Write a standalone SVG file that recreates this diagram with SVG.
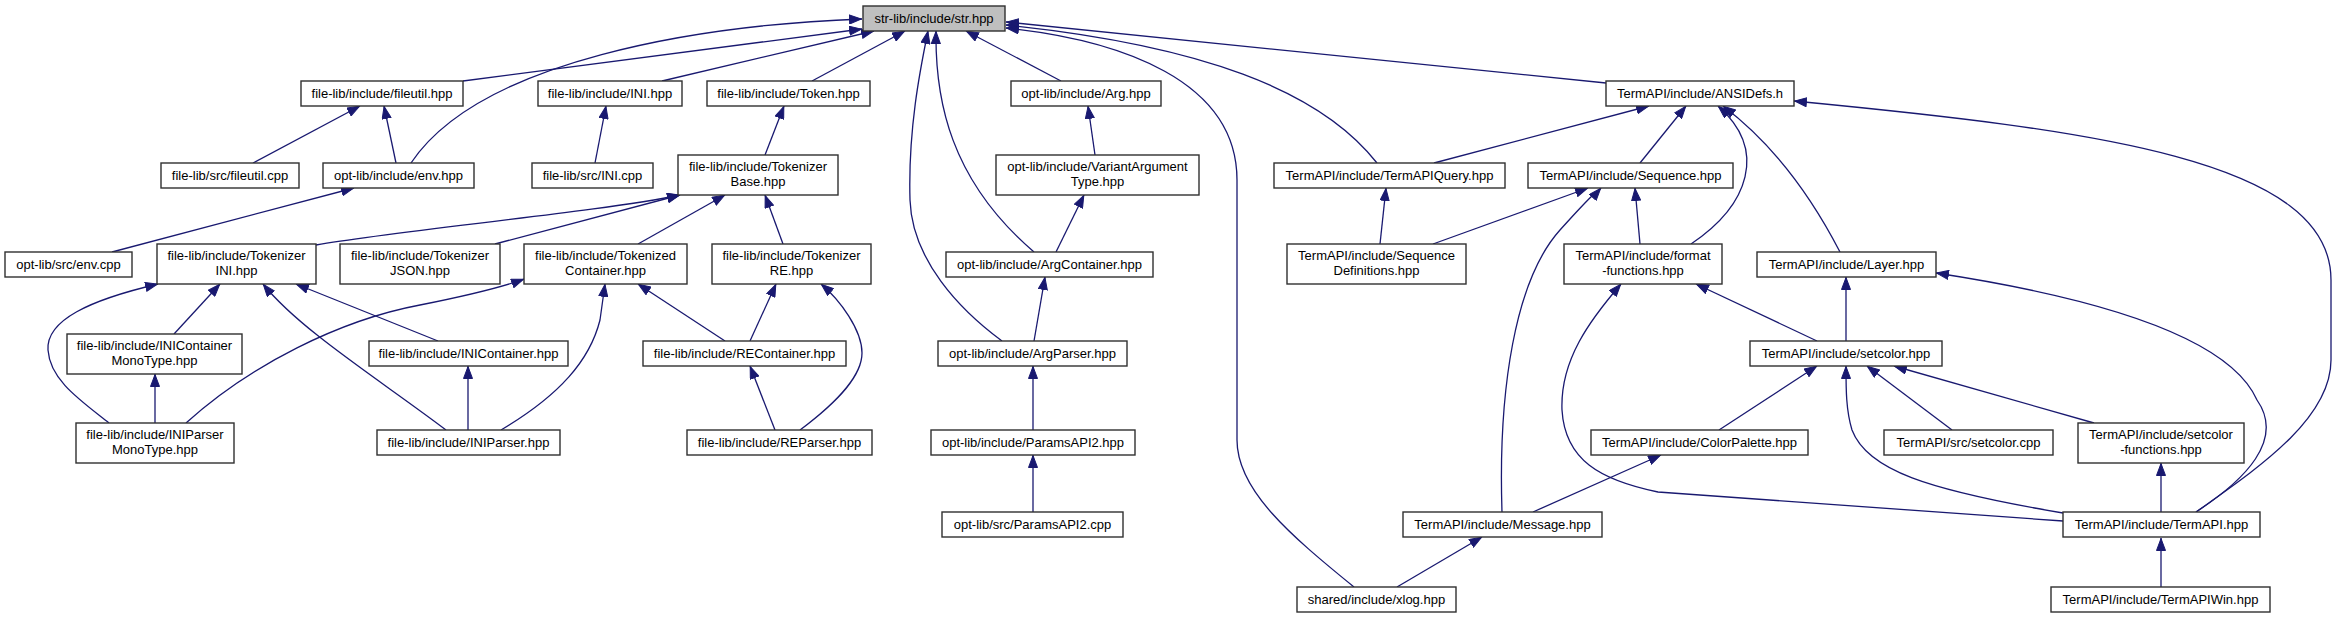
<svg xmlns="http://www.w3.org/2000/svg" width="2339" height="619" viewBox="0 0 2339 619">
<style>
.n rect{fill:#ffffff;stroke:#303030;stroke-width:1.4}
.n.g rect{fill:#bfbfbf}
.n text{font-family:"Liberation Sans",Arial,sans-serif;font-size:13px;fill:#000;text-anchor:middle}
#edges path{fill:none;stroke:#191970;stroke-width:1.3;marker-end:url(#ah)}
</style>
<defs>
<marker id="ah" markerUnits="userSpaceOnUse" viewBox="0 0 13 10" refX="13" refY="5" markerWidth="13" markerHeight="10" orient="auto"><path d="M0.5,0.5 L12.5,5 L0.5,9.5 z" fill="#191970" stroke="#191970" stroke-width="1"/></marker>
</defs>
<rect x="0" y="0" width="2339" height="619" fill="#ffffff"/>
<g id="edges">
<path d="M463,81 L862,29"/>
<path d="M411,163 C480,60 700,25 862,19"/>
<path d="M662,81 L874,31"/>
<path d="M812,81 L905,31"/>
<path d="M1034,252 C950,180 935,100 936,31"/>
<path d="M1002,341 C960,310 912,260 910,200 C908,130 920,70 928,31"/>
<path d="M1061,81 L966,31"/>
<path d="M1354,587 C1290,535 1237,490 1237,440 L1237,180 C1237,80 1120,40 1006,28"/>
<path d="M1377,163 C1320,90 1200,45 1006,25"/>
<path d="M1606,83 L1006,22"/>
<path d="M1434,163 L1649,106"/>
<path d="M1640,163 L1686,106"/>
<path d="M1691,244 C1749,205 1768,150 1718,106"/>
<path d="M1840,252 C1808,190 1768,140 1723,106"/>
<path d="M2196,512 C2255,470 2331,420 2331,360 L2331,280 C2331,160 2095,130 1794,101"/>
<path d="M1433,244 L1588,188"/>
<path d="M1502,512 C1498,390 1515,280 1560,230 S1594,196 1601,188"/>
<path d="M1640,244 L1635,188"/>
<path d="M1380,244 L1386,188"/>
<path d="M1846,341 L1846,277"/>
<path d="M2196,512 C2245,480 2285,440 2257,400 C2235,350 2145,305 1936,273"/>
<path d="M1817,341 L1696,284"/>
<path d="M2063,521 L1658,492 C1600,480 1565,460 1562,410 C1560,360 1590,320 1621,284"/>
<path d="M1719,430 L1817,366"/>
<path d="M2063,513 C1927,490 1867,470 1852,430 C1846,410 1846,390 1846,366"/>
<path d="M1952,430 L1867,366"/>
<path d="M2094,423 L1894,366"/>
<path d="M2161,512 L2161,463"/>
<path d="M2161,587 L2161,538"/>
<path d="M1533,512 L1661,455"/>
<path d="M1397,587 L1482,537"/>
<path d="M253,163 L360,106"/>
<path d="M396,163 L384,106"/>
<path d="M112,252 L354,188"/>
<path d="M595,163 L606,106"/>
<path d="M765,155 L784,106"/>
<path d="M316,245 C400,230 600,212 680,195"/>
<path d="M495,244 L680,195"/>
<path d="M638,244 L725,195"/>
<path d="M783,244 L765,195"/>
<path d="M174,334 L220,284"/>
<path d="M109,423 C80,400 50,380 48,350 C46,320 90,300 158,284"/>
<path d="M446,430 C380,380 300,330 263,284"/>
<path d="M438,341 L296,284"/>
<path d="M186,423 C250,365 340,320 420,305 C460,297 500,288 524,279"/>
<path d="M501,430 C560,395 590,360 600,320 L605,284"/>
<path d="M725,341 L638,284"/>
<path d="M750,341 L776,284"/>
<path d="M800,430 C840,400 862,375 862,353 C862,330 840,300 821,284"/>
<path d="M468,430 L468,366"/>
<path d="M155,423 L155,374"/>
<path d="M775,430 L750,366"/>
<path d="M1095,155 L1088,106"/>
<path d="M1056,252 L1084,195"/>
<path d="M1034,341 L1045,277"/>
<path d="M1033,430 L1033,366"/>
<path d="M1033,512 L1033,455"/>
</g>
<g id="n_str" class="n g"><rect x="863" y="6" width="142" height="25"/><text x="934" y="23">str-lib/include/str.hpp</text></g>
<g id="n_fileutil_hpp" class="n"><rect x="301" y="81" width="162" height="25"/><text x="382" y="98">file-lib/include/fileutil.hpp</text></g>
<g id="n_ini_hpp" class="n"><rect x="538" y="81" width="144" height="25"/><text x="610" y="98">file-lib/include/INI.hpp</text></g>
<g id="n_token" class="n"><rect x="707" y="81" width="163" height="25"/><text x="788.5" y="98">file-lib/include/Token.hpp</text></g>
<g id="n_arg" class="n"><rect x="1011" y="81" width="150" height="25"/><text x="1086" y="98">opt-lib/include/Arg.hpp</text></g>
<g id="n_ansidefs" class="n"><rect x="1606" y="81" width="188" height="25"/><text x="1700" y="98">TermAPI/include/ANSIDefs.h</text></g>
<g id="n_fileutil_cpp" class="n"><rect x="161" y="163" width="138" height="25"/><text x="230" y="180">file-lib/src/fileutil.cpp</text></g>
<g id="n_env_hpp" class="n"><rect x="323" y="163" width="151" height="25"/><text x="398.5" y="180">opt-lib/include/env.hpp</text></g>
<g id="n_ini_cpp" class="n"><rect x="532" y="163" width="121" height="25"/><text x="592.5" y="180">file-lib/src/INI.cpp</text></g>
<g id="n_tokbase" class="n"><rect x="678" y="155" width="160" height="40"/><text x="758" y="171">file-lib/include/Tokenizer</text><text x="758" y="186">Base.hpp</text></g>
<g id="n_variant" class="n"><rect x="996" y="155" width="203" height="40"/><text x="1097.5" y="171">opt-lib/include/VariantArgument</text><text x="1097.5" y="186">Type.hpp</text></g>
<g id="n_termapiquery" class="n"><rect x="1274" y="163" width="231" height="25"/><text x="1389.5" y="180">TermAPI/include/TermAPIQuery.hpp</text></g>
<g id="n_sequence" class="n"><rect x="1528" y="163" width="205" height="25"/><text x="1630.5" y="180">TermAPI/include/Sequence.hpp</text></g>
<g id="n_env_cpp" class="n"><rect x="5" y="252" width="127" height="25"/><text x="68.5" y="269">opt-lib/src/env.cpp</text></g>
<g id="n_tokini" class="n"><rect x="157" y="244" width="159" height="40"/><text x="236.5" y="260">file-lib/include/Tokenizer</text><text x="236.5" y="275">INI.hpp</text></g>
<g id="n_tokjson" class="n"><rect x="340" y="244" width="160" height="40"/><text x="420" y="260">file-lib/include/Tokenizer</text><text x="420" y="275">JSON.hpp</text></g>
<g id="n_tokcont" class="n"><rect x="524" y="244" width="163" height="40"/><text x="605.5" y="260">file-lib/include/Tokenized</text><text x="605.5" y="275">Container.hpp</text></g>
<g id="n_tokre" class="n"><rect x="712" y="244" width="159" height="40"/><text x="791.5" y="260">file-lib/include/Tokenizer</text><text x="791.5" y="275">RE.hpp</text></g>
<g id="n_argcont" class="n"><rect x="946" y="252" width="207" height="25"/><text x="1049.5" y="269">opt-lib/include/ArgContainer.hpp</text></g>
<g id="n_seqdef" class="n"><rect x="1287" y="244" width="179" height="40"/><text x="1376.5" y="260">TermAPI/include/Sequence</text><text x="1376.5" y="275">Definitions.hpp</text></g>
<g id="n_format" class="n"><rect x="1564" y="244" width="158" height="40"/><text x="1643" y="260">TermAPI/include/format</text><text x="1643" y="275">-functions.hpp</text></g>
<g id="n_layer" class="n"><rect x="1757" y="252" width="179" height="25"/><text x="1846.5" y="269">TermAPI/include/Layer.hpp</text></g>
<g id="n_inicontmono" class="n"><rect x="67" y="334" width="175" height="40"/><text x="154.5" y="350">file-lib/include/INIContainer</text><text x="154.5" y="365">MonoType.hpp</text></g>
<g id="n_inicont" class="n"><rect x="369" y="341" width="199" height="25"/><text x="468.5" y="358">file-lib/include/INIContainer.hpp</text></g>
<g id="n_recont" class="n"><rect x="643" y="341" width="203" height="25"/><text x="744.5" y="358">file-lib/include/REContainer.hpp</text></g>
<g id="n_argparser" class="n"><rect x="938" y="341" width="189" height="25"/><text x="1032.5" y="358">opt-lib/include/ArgParser.hpp</text></g>
<g id="n_setcolor" class="n"><rect x="1750" y="341" width="192" height="25"/><text x="1846" y="358">TermAPI/include/setcolor.hpp</text></g>
<g id="n_iniparsermono" class="n"><rect x="76" y="423" width="158" height="40"/><text x="155" y="439">file-lib/include/INIParser</text><text x="155" y="454">MonoType.hpp</text></g>
<g id="n_iniparser" class="n"><rect x="377" y="430" width="183" height="25"/><text x="468.5" y="447">file-lib/include/INIParser.hpp</text></g>
<g id="n_reparser" class="n"><rect x="687" y="430" width="185" height="25"/><text x="779.5" y="447">file-lib/include/REParser.hpp</text></g>
<g id="n_params_hpp" class="n"><rect x="931" y="430" width="204" height="25"/><text x="1033" y="447">opt-lib/include/ParamsAPI2.hpp</text></g>
<g id="n_colorpalette" class="n"><rect x="1591" y="430" width="217" height="25"/><text x="1699.5" y="447">TermAPI/include/ColorPalette.hpp</text></g>
<g id="n_setcolor_cpp" class="n"><rect x="1884" y="430" width="169" height="25"/><text x="1968.5" y="447">TermAPI/src/setcolor.cpp</text></g>
<g id="n_setcolorfn" class="n"><rect x="2078" y="423" width="166" height="40"/><text x="2161" y="439">TermAPI/include/setcolor</text><text x="2161" y="454">-functions.hpp</text></g>
<g id="n_params_cpp" class="n"><rect x="942" y="512" width="181" height="25"/><text x="1032.5" y="529">opt-lib/src/ParamsAPI2.cpp</text></g>
<g id="n_message" class="n"><rect x="1403" y="512" width="199" height="25"/><text x="1502.5" y="529">TermAPI/include/Message.hpp</text></g>
<g id="n_termapi" class="n"><rect x="2063" y="512" width="197" height="25"/><text x="2161.5" y="529">TermAPI/include/TermAPI.hpp</text></g>
<g id="n_xlog" class="n"><rect x="1297" y="587" width="159" height="25"/><text x="1376.5" y="604">shared/include/xlog.hpp</text></g>
<g id="n_termapiwin" class="n"><rect x="2051" y="587" width="219" height="25"/><text x="2160.5" y="604">TermAPI/include/TermAPIWin.hpp</text></g>
</svg>
